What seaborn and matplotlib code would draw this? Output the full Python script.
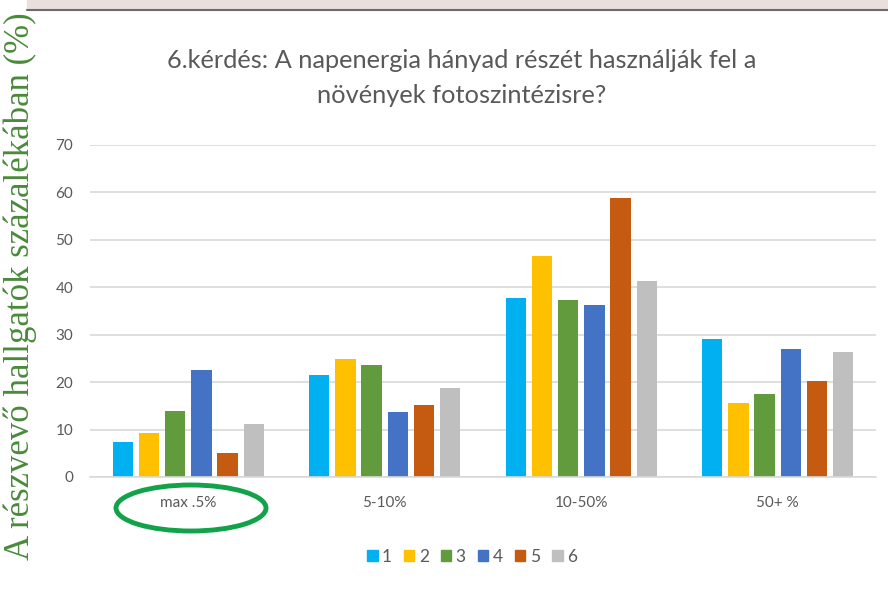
import matplotlib
matplotlib.use("Agg")
import matplotlib.pyplot as plt
import seaborn as sns
import pandas as pd
from matplotlib.patches import Ellipse, Rectangle
from matplotlib.lines import Line2D

categories = ["max .5%", "5-10%", "10-50%", "50+ %"]
series_names = ["1", "2", "3", "4", "5", "6"]
s1 = [7.3, 21.6, 37.8, 29.0]
s2 = [9.3, 24.8, 46.5, 15.6]
s3 = [14.0, 23.6, 37.4, 17.6]
s4 = [22.5, 13.6, 36.2, 27.0]
s5 = [5.0, 15.2, 58.8, 20.3]
s6 = [11.2, 18.8, 41.4, 26.3]
y_ticks = [0, 10, 20, 30, 40, 50, 60, 70]
title = "6.kérdés: A napenergia hányad részét használják fel a\nnövények fotoszintézisre?"
ylabel = "A részvevő hallgatók százalékában (%)"

colors = ["#00b0f0", "#ffc000", "#629b3e", "#4472c4", "#c55a11", "#bfbfbf"]

rows = []
for name, vals in zip(series_names, [s1, s2, s3, s4, s5, s6]):
    for c, v in zip(categories, vals):
        rows.append({"cat": c, "series": name, "value": v})
df = pd.DataFrame(rows)

sns.set_style("white")
plt.rcParams["font.family"] = ["Lato", "DejaVu Sans"]

fig = plt.figure(figsize=(8.88, 5.90), dpi=100)
ax = fig.add_axes([90 / 888, (590 - 477) / 590, 786 / 888, 332 / 590])

sns.barplot(data=df, x="cat", y="value", hue="series", order=categories,
            hue_order=series_names, palette=colors, width=0.8, gap=0.22,
            saturation=1, ax=ax, legend=False, edgecolor="none")

ax.set_ylim(0, 70)
ax.set_yticks(y_ticks)
ax.set_xlim(-0.5, 3.5)
ax.yaxis.grid(True, color="#d9d9d9", linewidth=1.2)
ax.set_axisbelow(True)
for s in ["top", "right", "left"]:
    ax.spines[s].set_visible(False)
ax.spines["bottom"].set_color("#d9d9d9")
ax.spines["bottom"].set_linewidth(1.2)
ax.tick_params(axis="both", length=0, colors="#595959", labelsize=11)
ax.tick_params(axis="y", pad=12)
ax.tick_params(axis="x", pad=14)
ax.set_xlabel("")
ax.set_ylabel("")

fig.text(462 / 888, 1 - 78 / 590, title, ha="center", va="center",
         fontsize=18.3, color="#595959", linespacing=1.6)

# legend
handles = [Rectangle((0, 0), 1, 1, color=c) for c in colors]
fig.legend(handles, series_names, loc="center", bbox_to_anchor=(472 / 888, 1 - 557 / 590),
           ncol=6, frameon=False, fontsize=12.5, labelcolor="#595959",
           handlelength=0.6, handleheight=0.6, handletextpad=0.25, columnspacing=0.7)

# top band and line
fig.add_artist(Rectangle((27 / 888, 1 - 8 / 590), 1, 8 / 590, transform=fig.transFigure,
                         color="#eadfdc", zorder=0))
fig.add_artist(Line2D([27 / 888, 1], [1 - 9.5 / 590, 1 - 9.5 / 590], transform=fig.transFigure,
                      color="#6b6b6b", linewidth=1.5))

# y label (serif, green)
fig.text(20 / 888, 1 - 286 / 590, ylabel, rotation=90, ha="center", va="center",
         fontsize=25, color="#4a8a3c", family=["Liberation Serif", "DejaVu Serif"])

# green ellipse around first category label
ell = Ellipse((191 / 888, 1 - 508 / 590), 150 / 888, 46 / 590, transform=fig.transFigure,
              fill=False, edgecolor="#12a24a", linewidth=3.5)
fig.add_artist(ell)

fig.savefig("out.png", dpi=100)
